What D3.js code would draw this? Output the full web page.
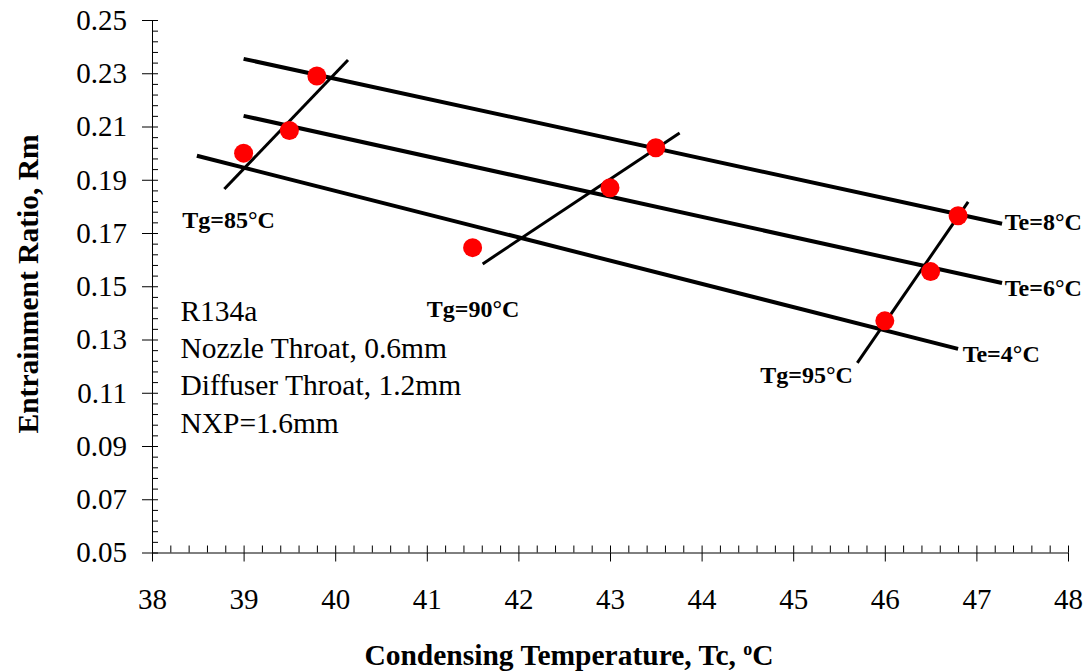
<!DOCTYPE html>
<html>
<head>
<meta charset="utf-8">
<script src="https://cdn.jsdelivr.net/npm/d3@7"></script>
<style>
  body { margin: 0; background: #fff; }
  svg { display: block; }
  text { font-family: "Liberation Serif", "Times New Roman", serif; fill: #000; }
</style>
</head>
<body>
<script>
// Entrainment ratio vs condensing temperature (R134a ejector)

//---- data
const tcPoints = [39.0, 39.5, 39.8, 41.5, 43.0, 43.5, 46.0, 46.5, 46.8];
const rmPoints = [0.200, 0.2085, 0.229, 0.1645, 0.187, 0.202, 0.137, 0.1555, 0.1765];

// constant evaporator temperature lines
const teNames = ["Te=8°C", "Te=6°C", "Te=4°C"];
const teStartTc = [39.0, 39.0, 38.49];
const teStartRm = [0.2354, 0.2140, 0.1990];
const teEndTc = [47.28, 47.28, 46.80];
const teEndRm = [0.1735, 0.1512, 0.1265];
const teLabelTc = [47.31, 47.31, 46.85];
const teLabelRm = [0.1711, 0.1464, 0.1216];

// constant generator temperature lines
const tgNames = ["Tg=85°C", "Tg=90°C", "Tg=95°C"];
const tgStartTc = [38.79, 41.61, 45.70];
const tgStartRm = [0.1865, 0.1584, 0.1212];
const tgEndTc = [40.14, 43.76, 46.91];
const tgEndRm = [0.2350, 0.2076, 0.1817];
const tgLabelTc = [38.33, 41.00, 44.64];
const tgLabelRm = [0.1719, 0.1385, 0.1137];

const xTicks = [38, 39, 40, 41, 42, 43, 44, 45, 46, 47, 48];
const yTicks = [0.05, 0.07, 0.09, 0.11, 0.13, 0.15, 0.17, 0.19, 0.21, 0.23, 0.25];

const notes = ["R134a", "Nozzle Throat, 0.6mm", "Diffuser Throat, 1.2mm", "NXP=1.6mm"];
const noteTc = 38.31;
const noteRm = [0.1369, 0.1230, 0.1091, 0.0949];

//---- drawing
const width = 1091, height = 671;
const plotLeft = 152, plotRight = 1068, plotTop = 20, plotBottom = 552.5;

const x = d3.scaleLinear().domain([38, 48]).range([plotLeft, plotRight]);
const y = d3.scaleLinear().domain([0.05, 0.25]).range([plotBottom, plotTop]);

const svg = d3.select("body").append("svg")
  .attr("width", width)
  .attr("height", height);

// minor ticks (inside)
svg.append("g")
  .attr("transform", `translate(0,${plotBottom})`)
  .call(d3.axisBottom(x).tickValues(d3.range(38, 48.001, 0.2)).tickSize(-7).tickFormat(""))
  .call(g => g.select(".domain").remove());
svg.append("g")
  .attr("transform", `translate(${plotLeft},0)`)
  .call(d3.axisLeft(y).tickValues(d3.range(0.05, 0.2501, 0.004)).tickSize(-6).tickFormat(""))
  .call(g => g.select(".domain").remove());

// major axes
svg.append("g")
  .attr("transform", `translate(0,${plotBottom})`)
  .call(d3.axisBottom(x).tickValues(xTicks).tickSize(9).tickSizeOuter(0).tickPadding(27));
svg.append("g")
  .attr("transform", `translate(${plotLeft},0)`)
  .call(d3.axisLeft(y).tickValues(yTicks).tickSize(10).tickSizeOuter(0).tickPadding(15).tickFormat(d3.format(".2f")));

svg.selectAll(".tick text")
  .style("font-family", '"Liberation Serif", serif')
  .style("font-size", "29px");
svg.selectAll(".domain, .tick line").attr("stroke", "#000");

// axis titles
svg.append("text")
  .attr("x", 569)
  .attr("y", 665)
  .attr("text-anchor", "middle")
  .style("font-size", "29.5px")
  .style("font-weight", "bold")
  .html('Condensing Temperature, Tc, <tspan dy="-10" font-size="18">o</tspan><tspan dy="10">C</tspan>');

svg.append("text")
  .attr("transform", "translate(38,284) rotate(-90)")
  .attr("text-anchor", "middle")
  .style("font-size", "29.5px")
  .style("font-weight", "bold")
  .text("Entrainment Ratio, Rm");

// Te lines
svg.selectAll(".te")
  .data(teNames)
  .enter()
  .append("line")
  .attr("class", "te")
  .attr("x1", (d, i) => x(teStartTc[i]))
  .attr("y1", (d, i) => y(teStartRm[i]))
  .attr("x2", (d, i) => x(teEndTc[i]))
  .attr("y2", (d, i) => y(teEndRm[i]))
  .attr("stroke", "#000")
  .attr("stroke-width", 4);

// Tg lines
svg.selectAll(".tg")
  .data(tgNames)
  .enter()
  .append("line")
  .attr("class", "tg")
  .attr("x1", (d, i) => x(tgStartTc[i]))
  .attr("y1", (d, i) => y(tgStartRm[i]))
  .attr("x2", (d, i) => x(tgEndTc[i]))
  .attr("y2", (d, i) => y(tgEndRm[i]))
  .attr("stroke", "#000")
  .attr("stroke-width", 3);

// measured points
svg.selectAll("circle")
  .data(tcPoints)
  .enter()
  .append("circle")
  .attr("cx", d => x(d))
  .attr("cy", (d, i) => y(rmPoints[i]))
  .attr("r", 9.5)
  .attr("fill", "#ff0000");

// line labels
svg.selectAll(".teLabel")
  .data(teNames)
  .enter()
  .append("text")
  .attr("class", "teLabel")
  .attr("x", (d, i) => x(teLabelTc[i]))
  .attr("y", (d, i) => y(teLabelRm[i]))
  .style("font-size", "24px")
  .style("font-weight", "bold")
  .text(d => d);

svg.selectAll(".tgLabel")
  .data(tgNames)
  .enter()
  .append("text")
  .attr("class", "tgLabel")
  .attr("x", (d, i) => x(tgLabelTc[i]))
  .attr("y", (d, i) => y(tgLabelRm[i]))
  .style("font-size", "24px")
  .style("font-weight", "bold")
  .text(d => d);

// notes
svg.selectAll(".note")
  .data(notes)
  .enter()
  .append("text")
  .attr("class", "note")
  .attr("x", x(noteTc))
  .attr("y", (d, i) => y(noteRm[i]))
  .style("font-size", "29.5px")
  .text(d => d);
</script>
</body>
</html>
